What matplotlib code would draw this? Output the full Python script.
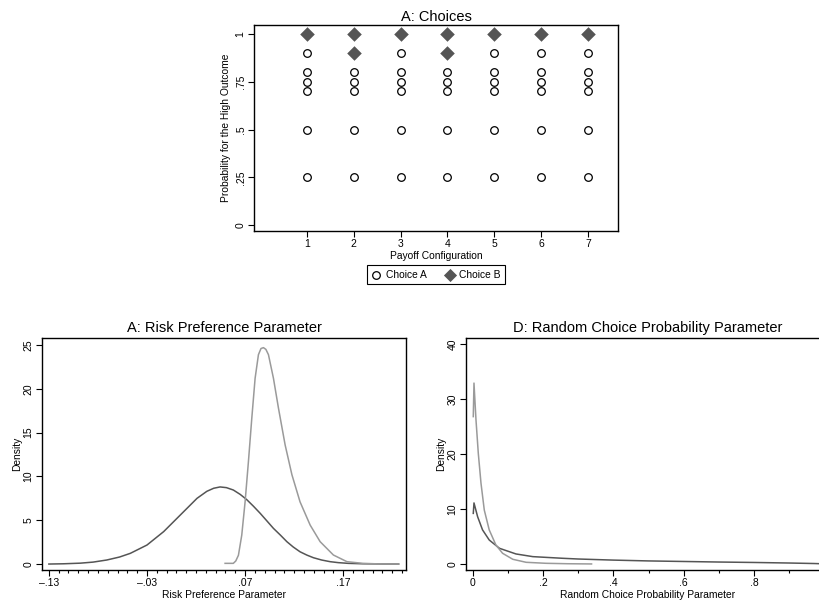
import matplotlib
matplotlib.use("Agg")
import matplotlib.pyplot as plt
from matplotlib.ticker import FixedLocator

plt.rcParams["font.family"] = ["Liberation Sans", "DejaVu Sans"]

# panel A: choices
configs = [1, 2, 3, 4, 5, 6, 7]
probs_a = {
    1: [0.25, 0.5, 0.7, 0.75, 0.8, 0.9],
    2: [0.25, 0.5, 0.7, 0.75, 0.8],
    3: [0.25, 0.5, 0.7, 0.75, 0.8, 0.9],
    4: [0.25, 0.5, 0.7, 0.75, 0.8],
    5: [0.25, 0.5, 0.7, 0.75, 0.8, 0.9],
    6: [0.25, 0.5, 0.7, 0.75, 0.8, 0.9],
    7: [0.25, 0.5, 0.7, 0.75, 0.8, 0.9],
}
probs_b = {
    1: [1.0],
    2: [0.9, 1.0],
    3: [1.0],
    4: [0.9, 1.0],
    5: [1.0],
    6: [1.0],
    7: [1.0],
}

# risk preference densities
risk_dark_x = [-0.13, -0.115, -0.098, -0.085, -0.071, -0.058, -0.047, -0.030, -0.013,
               0.004, 0.021, 0.031, 0.038, 0.0445, 0.051, 0.058, 0.065, 0.0717, 0.0785,
               0.0853, 0.092, 0.0989, 0.106, 0.1126, 0.119, 0.126, 0.133, 0.1397, 0.148,
               0.1567, 0.165, 0.175, 0.19, 0.21, 0.2265]
risk_dark_y = [0.0, 0.03, 0.1, 0.22, 0.46, 0.8, 1.22, 2.17, 3.7,
               5.6, 7.5, 8.3, 8.65, 8.8, 8.72, 8.45, 7.95, 7.35, 6.6,
               5.8, 4.95, 4.07, 3.3, 2.55, 1.95, 1.4, 1.02, 0.72, 0.46,
               0.27, 0.16, 0.08, 0.03, 0.01, 0.0]
risk_grey_x = [0.0496, 0.058, 0.0605, 0.0632, 0.0666, 0.070, 0.0734, 0.0768, 0.0802,
               0.0836, 0.0862, 0.0887, 0.0912, 0.0938, 0.0989, 0.104, 0.1108, 0.1177,
               0.126, 0.1363, 0.1465, 0.160, 0.1738, 0.19, 0.205, 0.2265]
risk_grey_y = [0.08, 0.08, 0.35, 1.0, 3.3, 7.1, 11.7, 16.6, 21.2,
               23.9, 24.6, 24.7, 24.5, 23.9, 21.2, 17.8, 13.6, 10.2,
               7.1, 4.45, 2.55, 1.03, 0.27, 0.08, 0.02, 0.0]

# random choice probability densities
rand_grey_x = [0.0017, 0.0037, 0.0094, 0.016, 0.0236, 0.033, 0.047, 0.066, 0.085,
               0.114, 0.152, 0.208, 0.27, 0.338]
rand_grey_y = [26.8, 32.9, 26.2, 20.1, 14.7, 9.8, 6.2, 3.45, 1.94,
               0.85, 0.3, 0.12, 0.04, 0.0]
rand_dark_x = [0.0017, 0.0037, 0.014, 0.028, 0.047, 0.076, 0.123, 0.171, 0.256,
               0.3, 0.4, 0.5, 0.6, 0.7, 0.8, 0.9, 0.97, 1.0]
rand_dark_y = [9.2, 11.1, 8.6, 6.2, 4.36, 2.85, 1.82, 1.33, 1.03,
               0.9, 0.7, 0.55, 0.45, 0.35, 0.27, 0.17, 0.08, 0.02]

DARK = "#555555"
GREY = "#9a9a9a"
FS = 7.5
LFS = 7.4


def style_axes(ax):
    for s in ax.spines.values():
        s.set_linewidth(1.0)
    ax.tick_params(direction="out", length=4, width=0.8, labelsize=FS, pad=2)
    ax.tick_params(which="minor", direction="out", length=2.5, width=0.8)
    for lab in ax.get_yticklabels():
        lab.set_rotation(90)
        lab.set_va("center")


fig = plt.figure(figsize=(8.2, 6.03), dpi=100)

# --- top panel
ax = fig.add_axes([254 / 820, 1 - 231 / 603, 364 / 820, 206 / 603])
for c in configs:
    ax.scatter([c] * len(probs_a[c]), probs_a[c], s=30, facecolors="white",
               edgecolors="black", linewidths=0.9, zorder=3)
    ax.scatter([c] * len(probs_b[c]), probs_b[c], s=55, marker="D", color=DARK,
               linewidths=0, zorder=4)
ax.set_xlim(-0.13, 7.64)
ax.set_ylim(-0.031, 1.047)
ax.set_xticks(configs)
ax.set_yticks([0, 0.25, 0.5, 0.75, 1])
ax.set_yticklabels(["0", ".25", ".5", ".75", "1"])
ax.set_xlabel("Payoff Configuration", fontsize=LFS, labelpad=1)
ax.set_ylabel("Probability for the High Outcome", fontsize=LFS, labelpad=3)
ax.set_title("A: Choices", fontsize=10.5, pad=3)
style_axes(ax)

ha = ax.scatter([], [], s=30, facecolors="white", edgecolors="black", linewidths=0.9)
hb = ax.scatter([], [], s=45, marker="D", color=DARK, linewidths=0)
leg = fig.legend([ha, hb], ["Choice A", "Choice B"], ncol=2, fontsize=LFS,
                 loc="center", bbox_to_anchor=(436 / 820, 1 - 274.5 / 603),
                 fancybox=False, edgecolor="black", framealpha=1,
                 handletextpad=0.4, columnspacing=1.8, borderpad=0.45,
                 borderaxespad=0, handlelength=1.0)
leg.get_frame().set_linewidth(0.8)

# --- bottom left
ax1 = fig.add_axes([42 / 820, 1 - 570 / 603, 364 / 820, 232 / 603])
ax1.plot(risk_dark_x, risk_dark_y, color=DARK, lw=1.1)
ax1.plot(risk_grey_x, risk_grey_y, color=GREY, lw=1.1)
ax1.set_xlim(-0.137, 0.234)
ax1.set_ylim(-0.68, 25.8)
ax1.set_xticks([-0.13, -0.03, 0.07, 0.17])
ax1.set_xticklabels(["\u2013.13", "\u2013.03", ".07", ".17"])
ax1.xaxis.set_minor_locator(FixedLocator([-0.13 + 0.01 * i for i in range(37)]))
ax1.set_yticks([0, 5, 10, 15, 20, 25])
ax1.set_xlabel("Risk Preference Parameter", fontsize=LFS, labelpad=1)
ax1.set_ylabel("Density", fontsize=LFS, labelpad=1)
ax1.set_title("A: Risk Preference Parameter", fontsize=10.5, pad=4)
style_axes(ax1)

# --- bottom right (right edge runs past the figure, as in the source)
ax2 = fig.add_axes([466 / 820, 1 - 570 / 603, 364 / 820, 232 / 603])
ax2.plot(rand_dark_x, rand_dark_y, color=DARK, lw=1.1)
ax2.plot(rand_grey_x, rand_grey_y, color=GREY, lw=1.1)
ax2.set_xlim(-0.019, 1.016)
ax2.set_ylim(-1.1, 41.1)
ax2.set_xticks([0, 0.2, 0.4, 0.6, 0.8])
ax2.set_xticklabels(["0", ".2", ".4", ".6", ".8"])
ax2.xaxis.set_minor_locator(FixedLocator([0.1, 0.3, 0.5, 0.7, 0.9]))
ax2.set_yticks([0, 10, 20, 30, 40])
ax2.set_xlabel("Random Choice Probability Parameter", fontsize=LFS, labelpad=1)
ax2.set_ylabel("Density", fontsize=LFS, labelpad=1)
ax2.set_title("D: Random Choice Probability Parameter", fontsize=10.5, pad=4)
style_axes(ax2)

fig.savefig("out.png", dpi=100)
plt.close(fig)
